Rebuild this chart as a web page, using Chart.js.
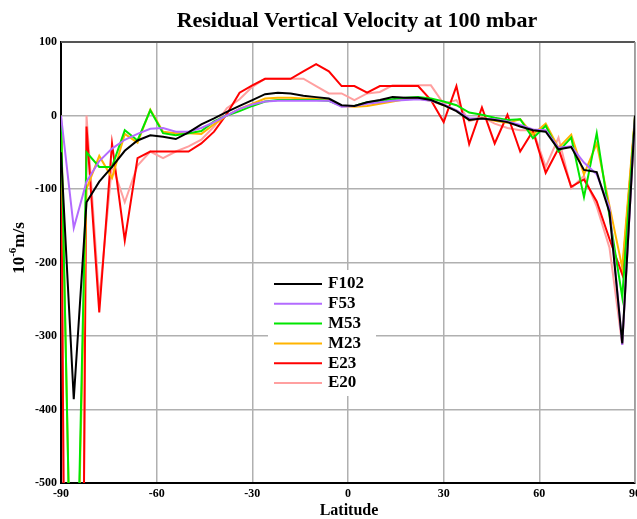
<!DOCTYPE html>
<html>
<head>
<meta charset="utf-8">
<script src="https://cdn.jsdelivr.net/npm/chart.js@4/dist/chart.umd.min.js"></script>
<style>
  html, body { margin: 0; padding: 0; background: #fff; }
  #grafico { display: block; }
</style>
</head>
<body>
<canvas id="grafico" width="637" height="519"></canvas>
<script>
// latitudes a cada 4 graus
const latitudes = [-90, -86, -82, -78, -74, -70, -66, -62, -58, -54, -50, -46, -42, -38, -34, -30,
  -26, -22, -18, -14, -10, -6, -2, 2, 6, 10, 14, 18, 22, 26, 30, 34, 38, 42, 46, 50, 54, 58,
  62, 66, 70, 74, 78, 82, 86, 90];

const f102 = [-50, -386, -118, -90, -70, -48, -34, -27, -29, -32, -23, -12, -4, 5, 13, 21,
  29, 31, 30, 27, 25, 23, 14, 13, 18, 21, 25, 24, 24, 21, 14, 6, -6, -4, -6, -9, -15, -20,
  -22, -46, -43, -74, -77, -132, -310, 0];
const f53 = [0, -153, -90, -62, -45, -33, -25, -18, -17, -22, -22, -17, -9, 0, 9, 15,
  19, 20, 20, 20, 20, 20, 12, 13, 16, 18, 20, 21, 22, 20, 15, 7, -4, -4, -5, -8, -13, -19,
  -20, -44, -42, -64, -80, -125, -312, 0];
const m53 = [0, -850, -50, -70, -70, -20, -34, 7, -24, -27, -24, -21, -8, 0, 6, 13,
  19, 21, 21, 21, 21, 20, 13, 13, 18, 20, 22, 24, 25, 23, 19, 14, 4, 1, -3, -6, -5, -31,
  -14, -49, -30, -111, -24, -137, -247, 0];
const m23 = [0, -850, -100, -55, -85, -25, -37, 8, -22, -24, -24, -25, -12, 0, 9, 16,
  23, 24, 24, 23, 23, 21, 13, 12, 13, 16, 19, 22, 23, 20, 14, 7, -6, -3, -7, -10, -5, -26,
  -11, -44, -26, -80, -38, -123, -207, 0];
const e23 = [0, -2500, -15, -268, -38, -170, -58, -49, -49, -49, -49, -38, -22, 2, 31, 41,
  50, 50, 50, 60, 70, 60, 40, 40, 31, 40, 40, 40, 40, 21, -9, 40, -39, 11, -38, 1, -49, -21,
  -78, -45, -97, -87, -117, -168, -216, -4];
const e20 = [0, -2500, 0, -250, -67, -118, -68, -49, -58, -49, -42, -33, -15, 10, 22, 39,
  50, 50, 50, 50, 40, 30, 30, 21, 30, 32, 41, 41, 41, 41, 16, 21, -8, -2, -11, -17, -20, -20,
  -70, -30, -99, -82, -124, -180, -312, 0];

const nomes = ["F102", "F53", "M53", "M23", "E23", "E20"];
const valores = [f102, f53, m53, m23, e23, e20];
const cores = ["#000000", "#b36bff", "#00e600", "#ffb400", "#ff0000", "#ffa0a0"];

const serif = '"Liberation Serif", "Times New Roman", serif';

// borda de cima e da direita em cinza
const moldura = {
  id: "moldura",
  beforeDatasetsDraw(chart) {
    const { ctx, chartArea: a } = chart;
    ctx.save();
    ctx.strokeStyle = "#555";
    ctx.lineWidth = 2;
    ctx.beginPath();
    ctx.moveTo(a.left, a.top);
    ctx.lineTo(a.right, a.top);
    ctx.stroke();
    ctx.strokeStyle = "#999";
    ctx.lineWidth = 1.5;
    ctx.beginPath();
    ctx.moveTo(a.right, a.top);
    ctx.lineTo(a.right, a.bottom);
    ctx.stroke();

    // legenda dentro do grafico, com fundo branco
    ctx.fillStyle = "#fff";
    ctx.fillRect(268, 270, 108, 126);
    ctx.font = "bold 17px " + serif;
    ctx.textBaseline = "middle";
    nomes.forEach((nome, i) => {
      const y = 284 + i * 19.8;
      ctx.strokeStyle = cores[i];
      ctx.lineWidth = 2;
      ctx.beginPath();
      ctx.moveTo(274, y);
      ctx.lineTo(322, y);
      ctx.stroke();
      ctx.fillStyle = "#000";
      ctx.fillText(nome, 328, y);
    });
    ctx.restore();
  }
};

const titulos = {
  id: "titulos",
  afterDraw(chart) {
    const { ctx } = chart;
    ctx.save();
    ctx.fillStyle = "#000";
    ctx.textAlign = "center";
    ctx.textBaseline = "middle";
    ctx.font = "bold 22px " + serif;
    ctx.fillText("Residual Vertical Velocity at 100 mbar", 357, 21);
    ctx.font = "bold 16px " + serif;
    ctx.fillText("Latitude", 349, 511);

    // titulo do eixo y com expoente
    ctx.translate(18, 248);
    ctx.rotate(-Math.PI / 2);
    ctx.textAlign = "left";
    ctx.textBaseline = "alphabetic";
    const base = "bold 17px " + serif;
    const sup = "bold 11px " + serif;
    ctx.font = base;
    const w1 = ctx.measureText("10").width;
    ctx.font = sup;
    const w2 = ctx.measureText("-6").width;
    ctx.font = base;
    const w3 = ctx.measureText("m/s").width;
    let x = -(w1 + w2 + w3) / 2;
    ctx.fillText("10", x, 6);
    x += w1;
    ctx.font = sup;
    ctx.fillText("-6", x, -2);
    x += w2;
    ctx.font = base;
    ctx.fillText("m/s", x, 6);
    ctx.restore();
  }
};

const ctx = document.getElementById("grafico").getContext("2d");

new Chart(ctx, {
  type: "line",
  data: {
    datasets: nomes.map((nome, i) => ({
      label: nome,
      data: latitudes.map((lat, j) => ({ x: lat, y: valores[i][j] })),
      borderColor: cores[i],
      borderWidth: 2,
      pointRadius: 0,
      tension: 0,
      fill: false
    }))
  },
  options: {
    responsive: false,
    animation: false,
    layout: { padding: { top: 42, right: 2, left: 0, bottom: 0 } },
    plugins: {
      legend: { display: false },
      title: { display: false },
      tooltip: { enabled: false }
    },
    scales: {
      x: {
        type: "linear",
        min: -90,
        max: 90,
        ticks: {
          stepSize: 30,
          color: "#000",
          padding: 4,
          maxRotation: 0,
          font: { family: serif, size: 12, weight: "bold" }
        },
        grid: {
          color: "#b0b0b0",
          lineWidth: 1.5,
          drawTicks: false
        },
        border: { color: "#000", width: 2 },
        afterFit(scale) {
          scale.height = 36;
          scale.paddingLeft = 0;
          scale.paddingRight = 0;
        }
      },
      y: {
        min: -500,
        max: 100,
        ticks: {
          stepSize: 100,
          color: "#000",
          padding: 4,
          font: { family: serif, size: 12, weight: "bold" }
        },
        grid: {
          color: "#b0b0b0",
          lineWidth: 1.5,
          drawTicks: false
        },
        border: { color: "#000", width: 2 },
        afterFit(scale) {
          scale.width = 61;
          scale.paddingTop = 0;
          scale.paddingBottom = 0;
        }
      }
    }
  },
  plugins: [moldura, titulos]
});
</script>
</body>
</html>
